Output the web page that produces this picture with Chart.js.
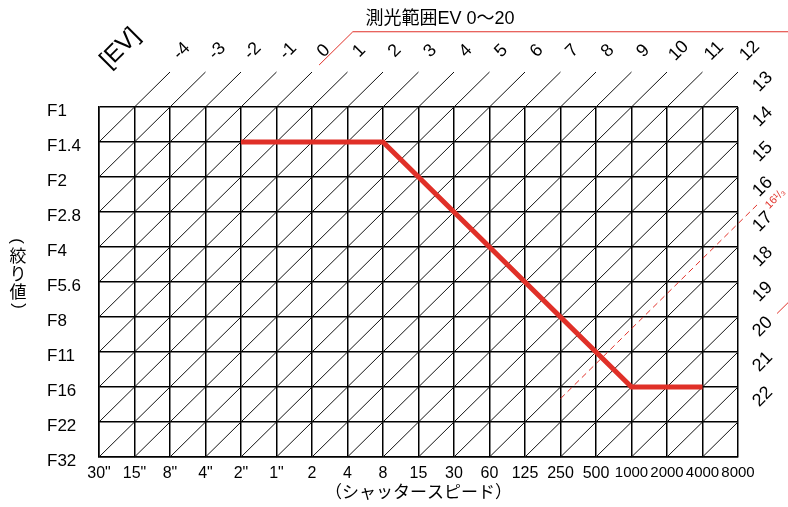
<!DOCTYPE html>
<html lang="ja">
<head>
<meta charset="utf-8">
<title>測光範囲EV 0〜20</title>
<script src="https://cdn.jsdelivr.net/npm/chart.js@4.4.1/dist/chart.umd.min.js"></script>
<style>
  body { margin: 0; background: #fff; }
  #wrap { width: 788px; height: 507px; }
</style>
</head>
<body>
<div id="wrap"><canvas id="ev-chart" width="788" height="507"></canvas></div>
<script>
// シャッタースピード（横軸）
const shutterLabels = ['30"', '15"', '8"', '4"', '2"', '1"', '2', '4', '8', '15', '30', '60', '125', '250', '500', '1000', '2000', '4000', '8000'];
// 絞り値（縦軸）
const apertureLabels = ['F1', 'F1.4', 'F2', 'F2.8', 'F4', 'F5.6', 'F8', 'F11', 'F16', 'F22', 'F32'];
// EV線の番号
const evValues = [-4, -3, -2, -1, 0, 1, 2, 3, 4, 5, 6, 7, 8, 9, 10, 11, 12, 13, 14, 15, 16, 17, 18, 19, 20, 21, 22];
const evOrigin = -5; // F1・30" のEV
// プログラム線
const programShutter = ['2"', '8', '1000', '4000'];
const programAperture = ['F1.4', 'F1.4', 'F16', 'F16'];
// 測光範囲と上限線
const meteringRange = [0, 20];
const limitEv = 16 + 1 / 3;
const limitFrom = '250';

const FONT = '"Liberation Sans", Arial, "Noto Sans CJK JP", sans-serif';
const RED = '#e03028';
const maxX = shutterLabels.length - 1;
const maxY = apertureLabels.length - 1;

// EV線の座標（格子の中＋外側の延長）
function evSegment(ev) {
    const s = ev - evOrigin;
    const pts = [
        { x: Math.max(0, s - maxY), y: Math.min(maxY, s) },
        { x: Math.min(maxX, s), y: Math.max(0, s - maxX) }
    ];
    if (s < maxX) pts.push({ x: s + 1, y: -1 });
    else pts.push({ x: maxX + 0.37, y: s - maxX - 0.37 });
    return pts;
}

const datasets = [];

// プログラム線
datasets.push({
    data: programShutter.map((s, k) => ({
        x: shutterLabels.indexOf(s),
        y: apertureLabels.indexOf(programAperture[k])
    })),
    borderColor: RED,
    borderWidth: 5,
    borderCapStyle: 'butt',
    borderJoinStyle: 'miter',
    order: 0
});

// 上限線（破線）
const ls = limitEv - evOrigin;
const lx0 = shutterLabels.indexOf(limitFrom);
datasets.push({
    data: [{ x: lx0, y: ls - lx0 }, { x: 18.62, y: ls - 18.62 }],
    borderColor: RED,
    borderWidth: 1,
    borderDash: [6, 4],
    order: 1
});

// 測光範囲の線
const r0 = meteringRange[0] - evOrigin;
datasets.push({
    data: [{ x: 6.2, y: r0 - 6.2 }, { x: 7.15, y: r0 - 7.15 }, { x: 21, y: r0 - 7.15 }],
    borderColor: RED,
    borderWidth: 1,
    order: 1
});
const r1 = meteringRange[1] - evOrigin;
datasets.push({
    data: [{ x: 19.1, y: r1 - 19.1 }, { x: 19.7, y: r1 - 19.7 }],
    borderColor: RED,
    borderWidth: 1,
    order: 1
});

evValues.forEach(ev => {
    datasets.push({
        data: evSegment(ev),
        borderColor: '#111',
        borderWidth: 1,
        order: 2
    });
});

// EV番号・見出し
const labelPlugin = {
    id: 'evLabels',
    afterDraw(chart) {
        const { ctx, scales: { x, y } } = chart;
        ctx.save();
        ctx.textAlign = 'center';
        ctx.textBaseline = 'middle';

        function rotText(text, px, py, font, color, angle) {
            ctx.save();
            ctx.translate(px, py);
            ctx.rotate(angle === undefined ? -Math.PI / 4 : angle);
            ctx.font = font;
            ctx.fillStyle = color;
            ctx.fillText(text, 0, 0);
            ctx.restore();
        }

        evValues.forEach(ev => {
            const s = ev - evOrigin;
            let lx, ly;
            if (s < maxX) { lx = s + 1.33; ly = -1.6; }
            else { lx = maxX + 0.7; ly = s - maxX - 0.72; }
            rotText(String(ev), x.getPixelForValue(lx), y.getPixelForValue(ly), '18px ' + FONT, '#000');
        });

        rotText('[EV]', x.getPixelForValue(0.6), y.getPixelForValue(-1.68), '24px ' + FONT, '#000');
        rotText('16¹/₃', x.getPixelForValue(19.05), y.getPixelForValue(2.62), '11px ' + FONT, RED);

        // タイトル
        ctx.font = '18px ' + FONT;
        ctx.fillStyle = '#000';
        ctx.fillText('測光範囲EV 0〜20', 440, 19);

        // 縦軸タイトル（縦書き）
        rotText('(', 17, 241, '17px ' + FONT, '#000', Math.PI / 2);
        ctx.font = '17px "Noto Sans CJK JP", sans-serif';
        ctx.fillText('絞', 18, 256);
        ctx.fillText('り', 18, 274);
        ctx.fillText('値', 18, 292);
        rotText(')', 19, 306, '17px ' + FONT, '#000', Math.PI / 2);
        ctx.restore();
    }
};

new Chart(document.getElementById('ev-chart'), {
    type: 'line',
    data: { datasets: datasets },
    options: {
        responsive: false,
        animation: false,
        events: [],
        layout: { padding: { left: 47, top: 107, right: 50, bottom: 0 } },
        elements: { point: { radius: 0 }, line: { tension: 0 } },
        datasets: { line: { clip: false, fill: false } },
        plugins: { legend: { display: false }, tooltip: { enabled: false }, title: { display: false } },
        scales: {
            x: {
                type: 'linear',
                min: 0,
                max: maxX,
                afterFit: scale => { scale.height = 50; },
                grid: { color: '#000', lineWidth: 1.5, drawTicks: false },
                border: { color: '#000', width: 1.5 },
                ticks: {
                    stepSize: 1,
                    autoSkip: false,
                    maxRotation: 0,
                    padding: 7,
                    color: '#000',
                    font: c => {
                        const t = shutterLabels[c.tick ? c.tick.value : 0] || '';
                        return { family: FONT, size: t.length >= 4 ? 15 : 16 };
                    },
                    callback: v => shutterLabels[v]
                },
                title: {
                    display: true,
                    text: '（シャッタースピード）',
                    color: '#000',
                    font: { family: FONT, size: 17 },
                    padding: { top: 2, bottom: 3 }
                }
            },
            y: {
                type: 'linear',
                min: 0,
                max: maxY,
                reverse: true,
                afterFit: scale => { scale.width = 52; },
                grid: { color: '#000', lineWidth: 1.5, drawTicks: false },
                border: { color: '#000', width: 1.5 },
                ticks: {
                    stepSize: 1,
                    autoSkip: false,
                    crossAlign: 'far',
                    labelOffset: 4,
                    color: '#000',
                    font: { family: FONT, size: 17 },
                    callback: v => apertureLabels[v]
                }
            }
        }
    },
    plugins: [labelPlugin]
});
</script>
</body>
</html>
